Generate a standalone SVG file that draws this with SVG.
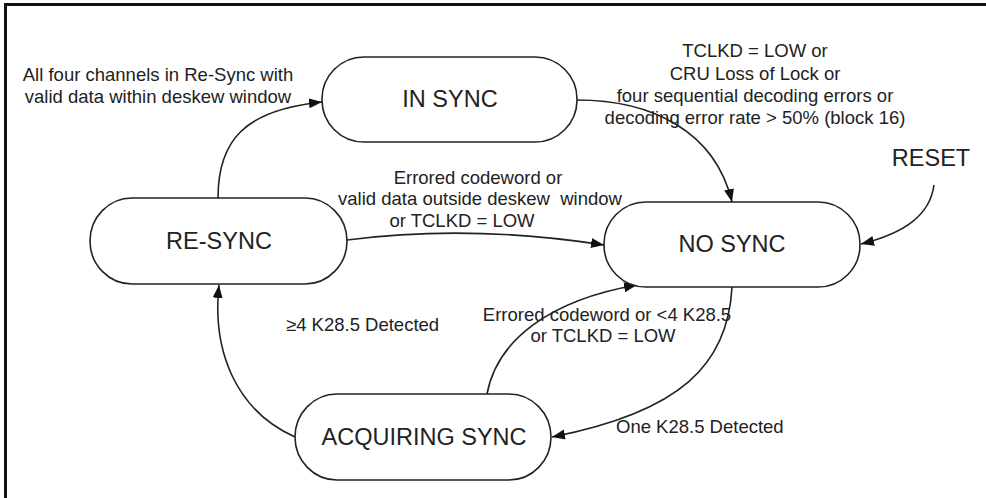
<svg xmlns="http://www.w3.org/2000/svg" width="986" height="498" viewBox="0 0 986 498">
<style>
.node{fill:#fff;stroke:#222;stroke-width:1.6}
.nt{font-family:"Liberation Sans",Arial,sans-serif;font-size:23.5px;fill:#222;text-anchor:middle}
.lb{font-family:"Liberation Sans",Arial,sans-serif;font-size:18.5px;fill:#222}
.c{fill:none;stroke:#222;stroke-width:1.6}
</style>
<defs>
<marker id="ah" markerUnits="userSpaceOnUse" markerWidth="14" markerHeight="12" refX="13" refY="5" orient="auto">
<path d="M0,0 L13,5 L0,10 Z" fill="#111"/>
</marker>
</defs>
<rect width="986" height="498" fill="#fff"/>
<path d="M5.5,498 L5.5,4.5 L986,4.5" fill="none" stroke="#111" stroke-width="3"/>
<g id="connectors">
<path class="c" d="M218,198 C218,140 245,110 322,102" marker-end="url(#ah)"/>
<path class="c" d="M577,100 C650,100 715,130 732,202" marker-end="url(#ah)"/>
<path class="c" d="M347,240 Q470,224 604,245" marker-end="url(#ah)"/>
<path class="c" d="M295,437 C235,410 212,350 219,285" marker-end="url(#ah)"/>
<path class="c" d="M487,394 C497,340 550,300 637,285" marker-end="url(#ah)"/>
<path class="c" d="M732,287 C728,365 680,412 552,437" marker-end="url(#ah)"/>
<path class="c" d="M934,185 C930,215 905,233 861,244" marker-end="url(#ah)"/>
</g>
<g id="in-sync">
<rect class="node" x="322" y="57" width="255" height="85" rx="42" ry="42"/>
<text class="nt" x="450" y="107">IN SYNC</text>
</g>
<g id="re-sync">
<rect class="node" x="90" y="198" width="257" height="86" rx="42" ry="43"/>
<text class="nt" x="219" y="249">RE-SYNC</text>
</g>
<g id="no-sync">
<rect class="node" x="604" y="202" width="256" height="85" rx="42" ry="42"/>
<text class="nt" x="732" y="252">NO SYNC</text>
</g>
<g id="acquiring-sync">
<rect class="node" x="295" y="394" width="256" height="86" rx="42" ry="43"/>
<text class="nt" x="424" y="445">ACQUIRING SYNC</text>
</g>
<g id="reset">
<text class="nt" x="931" y="166">RESET</text>
</g>
<g id="labels">
<text class="lb" text-anchor="middle" x="158" y="81">All four channels in Re-Sync with</text>
<text class="lb" text-anchor="middle" x="158" y="103">valid data within deskew window</text>
<text class="lb" text-anchor="middle" x="755" y="57">TCLKD = LOW or</text>
<text class="lb" text-anchor="middle" x="755" y="80">CRU Loss of Lock or</text>
<text class="lb" text-anchor="middle" x="755" y="102">four sequential decoding errors or</text>
<text class="lb" text-anchor="middle" x="755" y="124">decoding error rate &gt; 50% (block 16)</text>
<text class="lb" text-anchor="middle" x="478" y="184">Errored codeword or</text>
<text class="lb" text-anchor="middle" x="480" y="205" style="white-space:pre">valid data outside deskew  window</text>
<text class="lb" text-anchor="middle" x="462" y="227">or TCLKD = LOW</text>
<text class="lb" x="286" y="331">≥4 K28.5 Detected</text>
<text class="lb" text-anchor="middle" x="607" y="321">Errored codeword or &lt;4 K28.5</text>
<text class="lb" text-anchor="middle" x="603" y="342">or TCLKD = LOW</text>
<text class="lb" x="616" y="433">One K28.5 Detected</text>
</g>
</svg>
